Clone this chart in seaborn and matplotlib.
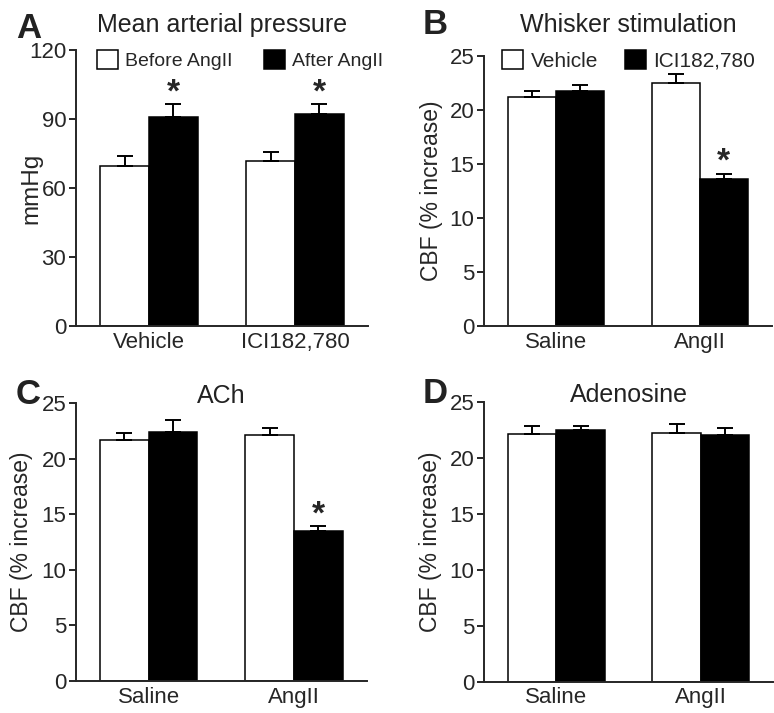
import pandas as pd
import matplotlib
matplotlib.use("Agg")
import matplotlib.pyplot as plt
import seaborn as sns

# ==============================
# Datos
# ==============================
grupos_a = ["Vehicle", "ICI182,780"]
niveles_a = ["Before AngII", "After AngII"]
a_antes = [69.7, 71.7]
a_despues = [90.9, 92.0]
a_err_antes = [4.3, 4.1]
a_err_despues = [5.5, 4.4]
a_sig = [[False, False], [True, True]]

grupos_cbf = ["Saline", "AngII"]
niveles_cbf = ["Vehicle", "ICI182,780"]

b_vehiculo = [21.2, 22.5]
b_ici = [21.7, 13.6]
b_err_vehiculo = [0.55, 0.85]
b_err_ici = [0.6, 0.5]
b_sig = [[False, False], [False, True]]

c_vehiculo = [21.65, 22.1]
c_ici = [22.45, 13.5]
c_err_vehiculo = [0.65, 0.7]
c_err_ici = [1.0, 0.45]
c_sig = [[False, False], [False, True]]

d_vehiculo = [22.15, 22.3]
d_ici = [22.5, 22.05]
d_err_vehiculo = [0.7, 0.8]
d_err_ici = [0.4, 0.65]
d_sig = [[False, False], [False, False]]

sns.set_style("white")
plt.rcParams["font.family"] = ["Liberation Sans", "DejaVu Sans"]
plt.rcParams["axes.linewidth"] = 1.4


def tabla(grupos, niveles, v1, v2):
    return pd.DataFrame({
        "grupo": grupos * 2,
        "cond": [niveles[0]] * len(grupos) + [niveles[1]] * len(grupos),
        "valor": list(v1) + list(v2),
    })


def panel(ax, df, niveles, errores, sig, titulo, pad, yticks, ylabel, labx,
          ylsize=16.5, leyenda=None, legsize=14.5, colsp=1.5):
    sns.barplot(data=df, x="grupo", y="valor", hue="cond", hue_order=niveles,
                palette=["white", "black"], edgecolor="black", linewidth=1.1,
                width=0.67, errorbar=None, legend=leyenda is not None, ax=ax)
    # barras de error (solo hacia arriba) y asteriscos
    for cont, errs, sigs in zip(ax.containers, errores, sig):
        for barra, e, s in zip(cont, errs, sigs):
            xc = barra.get_x() + barra.get_width() / 2
            h = barra.get_height()
            ax.errorbar(xc, h, yerr=[[0], [e]], fmt="none", ecolor="black",
                        elinewidth=1.4, capsize=6, capthick=1.4, zorder=1)
            if s:
                ax.annotate("*", (xc, h + e), xytext=(0, -3), textcoords="offset points",
                            ha="center", va="bottom", fontsize=24, fontweight="bold")
    ax.set_ylim(yticks[0], yticks[-1])
    ax.set_yticks(yticks)
    ax.set_xlim(-0.5, 1.5)
    ax.set_xlabel("")
    ax.set_ylabel(ylabel, fontsize=ylsize)
    ax.yaxis.set_label_coords(labx, 0.5)
    ax.set_title(titulo, fontsize=18, pad=pad, color="#222222")
    sns.despine(ax=ax)
    ax.tick_params(axis="y", direction="out", length=5, width=1.4, pad=2, labelsize=16, left=True)
    ax.tick_params(axis="x", length=0, pad=4, labelsize=16)
    if leyenda is not None:
        ax.legend(title=None, ncol=2, frameon=False, fontsize=legsize, loc="upper left",
                  bbox_to_anchor=leyenda, bbox_transform=ax.figure.transFigure,
                  borderpad=0, borderaxespad=0, handlelength=1.05 * 14.5 / legsize,
                  handleheight=1.05 * 14.5 / legsize,
                  handletextpad=0.35, columnspacing=colsp)


fig = plt.figure(figsize=(7.74, 7.13), dpi=100)
ax_a = fig.add_axes([0.0982, 0.5428, 0.3773, 0.3871])
ax_b = fig.add_axes([0.6257, 0.5428, 0.3713, 0.3791])
ax_c = fig.add_axes([0.0982, 0.0449, 0.3756, 0.3895])
ax_d = fig.add_axes([0.6257, 0.0439, 0.3729, 0.3918])

panel(ax_a, tabla(grupos_a, niveles_a, a_antes, a_despues), niveles_a,
      [a_err_antes, a_err_despues], a_sig, "Mean arterial pressure", 13,
      [0, 30, 60, 90, 120], "mmHg", -0.116, ylsize=17.5,
      leyenda=(97 / 774, 1 - 50 / 713), legsize=14, colsp=1.6)
panel(ax_b, tabla(grupos_cbf, niveles_cbf, b_vehiculo, b_ici), niveles_cbf,
      [b_err_vehiculo, b_err_ici], b_sig, "Whisker stimulation", 17,
      [0, 5, 10, 15, 20, 25], "CBF (% increase)", -0.144,
      leyenda=(502 / 774, 1 - 50 / 713), legsize=15, colsp=1.3)
panel(ax_c, tabla(grupos_cbf, niveles_cbf, c_vehiculo, c_ici), niveles_cbf,
      [c_err_vehiculo, c_err_ici], c_sig, "ACh", 0,
      [0, 5, 10, 15, 20, 25], "CBF (% increase)", -0.148)
panel(ax_d, tabla(grupos_cbf, niveles_cbf, d_vehiculo, d_ici), niveles_cbf,
      [d_err_vehiculo, d_err_ici], d_sig, "Adenosine", 0,
      [0, 5, 10, 15, 20, 25], "CBF (% increase)", -0.147)

# letras de panel
for letra, x, y in [("A", 16, 38), ("B", 423, 34), ("C", 16, 404), ("D", 423, 403)]:
    fig.text(x / 774, 1 - y / 713, letra, fontsize=25, fontweight="bold",
             color="#222222", ha="left", va="baseline")

plt.savefig("out.png", dpi=100)
plt.close()
